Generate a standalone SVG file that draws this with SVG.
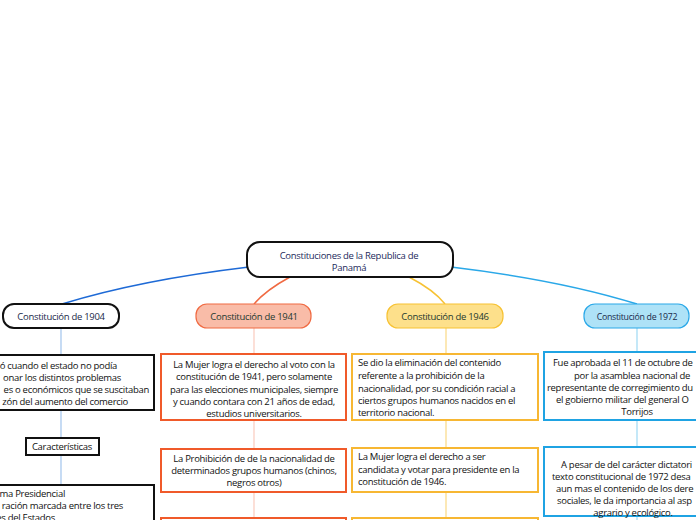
<svg xmlns="http://www.w3.org/2000/svg" width="696" height="520" viewBox="0 0 696 520">
<style>
text{font-family:"Open Sans","Noto Sans","Liberation Sans",sans-serif;font-size:9.5px;font-weight:500;fill:#111;letter-spacing:-0.3px}
.c{text-anchor:middle}
.e{text-anchor:end}
.box{fill:#fff;stroke-width:2}
.k{stroke:#111}
.o{stroke:#f05a2a}
.y{stroke:#f7b733}
.b{stroke:#1fa3e3}
.v{fill:none;stroke-width:1.3}
</style>
<rect width="696" height="520" fill="#fff"/>
<g id="connectors" fill="none">
<path d="M249 267 Q140 280 62 304" stroke="#1e6ad6" stroke-width="1.5"/>
<path d="M290 277 Q266 290 254 304" stroke="#f06a42" stroke-width="1.5"/>
<path d="M409 277 Q434 290 445 304" stroke="#f7c233" stroke-width="1.5"/>
<path d="M451 267 Q560 280 637 304" stroke="#2aa8e8" stroke-width="1.5"/>
<path class="v" d="M61 328V355M61 410V438M61 455V485" stroke="#a9c9ee"/>
<path class="v" d="M254 328V354M254 420V449M254 492V518" stroke="#fbcfc3"/>
<path class="v" d="M446 328V354M446 420V448M446 492V518" stroke="#fbdc8e"/>
<path class="v" d="M637 328V352M637 420V447M637 516V520" stroke="#a6dcf5"/>
</g>
<g id="root">
<rect x="247" y="242" width="206" height="35" rx="13" fill="#fff" stroke="#111" stroke-width="2"/>
<text class="c" x="349" y="259" style="fill:#1d2b5c">Constituciones de la Republica de</text>
<text class="c" x="349" y="271" style="fill:#1d2b5c">Panamá</text>
</g>
<g id="n1904">
<rect x="3" y="304" width="116" height="24" rx="11" fill="#fff" stroke="#111" stroke-width="2"/>
<text class="c" x="61" y="319.5" style="fill:#1b2a4a">Constitución de 1904</text>
</g>
<g id="n1941">
<rect x="196" y="304" width="115" height="24" rx="11" fill="#f9bca8" stroke="#f06a42" stroke-width="1.2"/>
<text class="c" x="254" y="319.5" style="fill:#1e3a30">Constitución de 1941</text>
</g>
<g id="n1946">
<rect x="387" y="304" width="116" height="24" rx="11" fill="#fde08b" stroke="#f7c233" stroke-width="1.2"/>
<text class="c" x="445" y="319.5" style="fill:#1e3a30">Constitución de 1946</text>
</g>
<g id="n1972">
<rect x="584" y="304" width="105" height="24" rx="11" fill="#aee2f7" stroke="#2aa8e8" stroke-width="1.2"/>
<text class="c" x="637" y="319.5" style="fill:#1b2a4a;font-size:8.8px">Constitución de 1972</text>
</g>
<g id="b1904a">
<rect class="box k" x="-10" y="355" width="164" height="55"/>
<text class="e" x="117" y="369">ó cuando el estado no podía</text>
<text class="e" x="121" y="381">onar los distintos problemas</text>
<text class="e" x="149" y="393">es o económicos que se suscitaban</text>
<text class="e" x="128" y="405">zón del aumento del comercio</text>
</g>
<g id="b1904b">
<rect class="box k" x="26" y="438" width="73" height="17"/>
<text class="c" x="62" y="450">Características</text>
</g>
<g id="b1904c">
<rect class="box k" x="-10" y="485" width="164" height="45"/>
<text class="e" x="65" y="497">ma Presidencial</text>
<text class="e" x="123" y="509">ración marcada entre los tres</text>
<text class="e" x="55" y="520.5">es del Estados</text>
</g>
<g id="b1941a">
<rect class="box o" x="161" y="354" width="185" height="66"/>
<text class="c" x="254" y="367.5">La Mujer logra el derecho al voto con la</text>
<text class="c" x="254" y="380">constitución de 1941, pero solamente</text>
<text class="c" x="254" y="392.5">para las elecciones municipales, siempre</text>
<text class="c" x="254" y="404.5">y cuando contara con 21 años de edad,</text>
<text class="c" x="254" y="416.5">estudios universitarios.</text>
</g>
<g id="b1941b">
<rect class="box o" x="161" y="449" width="185" height="43"/>
<text class="c" x="254" y="461.5">La Prohibición de de la nacionalidad de</text>
<text class="c" x="254" y="474">determinados grupos humanos (chinos,</text>
<text class="c" x="254" y="486">negros otros)</text>
</g>
<g id="b1941c">
<rect class="box o" x="161" y="518" width="185" height="20"/>
</g>
<g id="b1946a">
<rect class="box y" x="352" y="354" width="186" height="66"/>
<text x="358" y="365.5">Se dio la eliminación del contenido</text>
<text x="358" y="379">referente a la prohibición de la</text>
<text x="358" y="392">nacionalidad, por su condición racial a</text>
<text x="358" y="404">ciertos grupos humanos nacidos en el</text>
<text x="358" y="415.5">territorio nacional.</text>
</g>
<g id="b1946b">
<rect class="box y" x="352" y="448" width="186" height="44"/>
<text x="358" y="459.5">La Mujer logra el derecho a ser</text>
<text x="358" y="473">candidata y votar para presidente en la</text>
<text x="358" y="485">constitución de 1946.</text>
</g>
<g id="b1946c">
<rect class="box y" x="352" y="518" width="186" height="20"/>
</g>
<g id="b1972a">
<rect class="box b" x="544" y="352" width="190" height="68"/>
<text x="553" y="366">Fue aprobada el 11 de octubre de</text>
<text x="574" y="378.5">por la asamblea nacional de</text>
<text x="547" y="391">representante de corregimiento du</text>
<text x="556" y="403">el gobierno militar del general O</text>
<text class="c" x="637" y="415">Torrijos</text>
</g>
<g id="b1972b">
<rect class="box b" x="544" y="447" width="190" height="69"/>
<text x="561" y="467.5">A pesar de del carácter dictatori</text>
<text x="552" y="480">texto constitucional de 1972 desa</text>
<text x="556" y="492">aun mas el contenido de los dere</text>
<text x="557" y="504">sociales, le da importancia al asp</text>
<text class="c" x="633" y="516">agrario y ecológico.</text>
</g>
</svg>
